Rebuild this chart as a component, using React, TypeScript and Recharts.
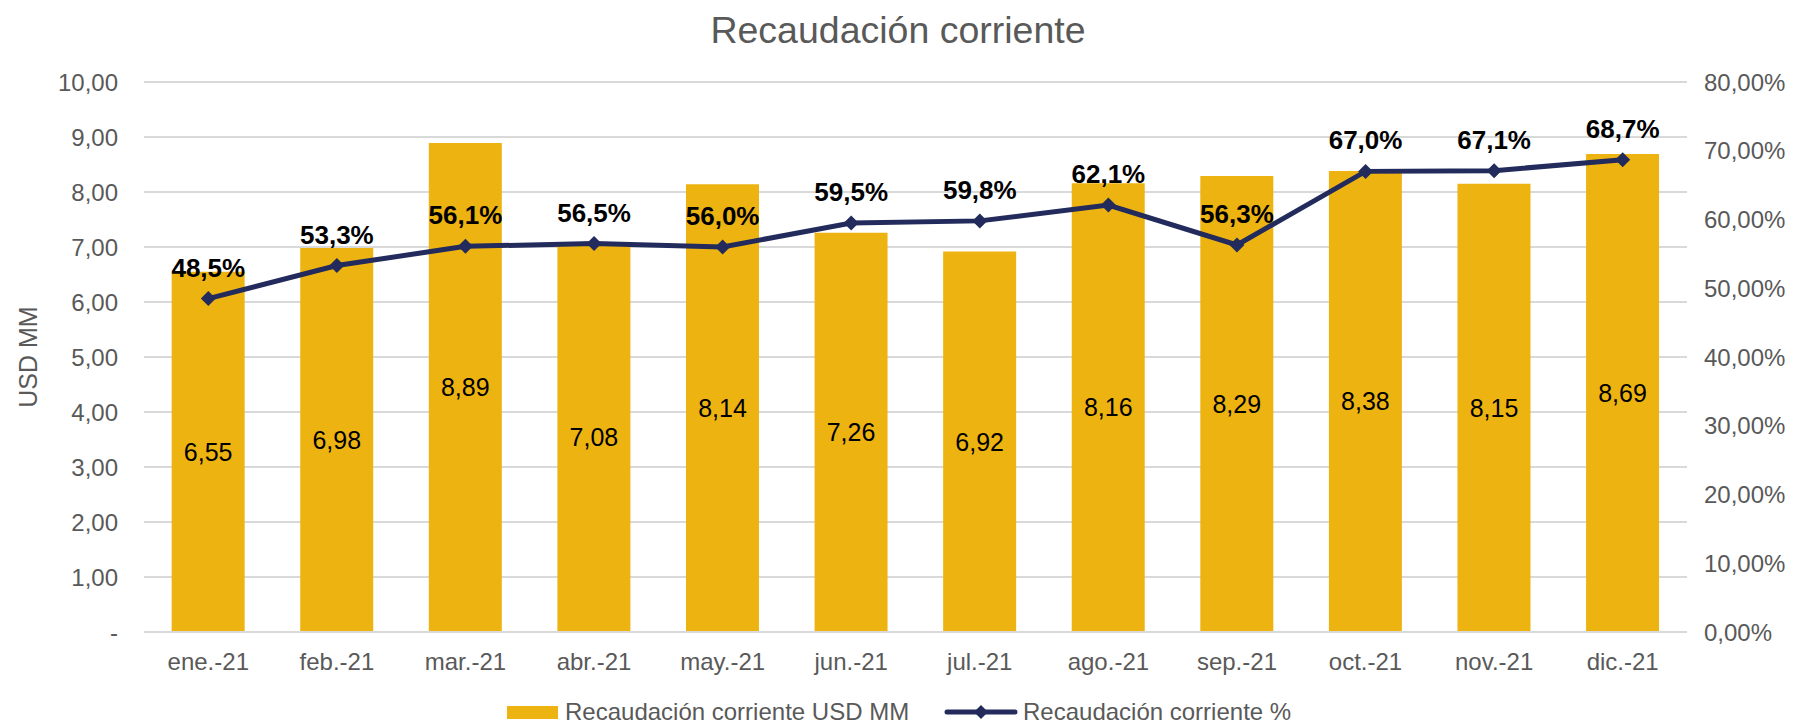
import React from "react";
import {
  Bar,
  CartesianGrid,
  ComposedChart,
  LabelList,
  Line,
  XAxis,
  YAxis,
} from "recharts";

const months = [
  "ene.-21", "feb.-21", "mar.-21", "abr.-21", "may.-21", "jun.-21",
  "jul.-21", "ago.-21", "sep.-21", "oct.-21", "nov.-21", "dic.-21",
];
const usdMM = [6.55, 6.98, 8.89, 7.08, 8.14, 7.26, 6.92, 8.16, 8.29, 8.38, 8.15, 8.69];
const pct = [48.5, 53.3, 56.1, 56.5, 56.0, 59.5, 59.8, 62.1, 56.3, 67.0, 67.1, 68.7];
const leftTicks = [0, 1, 2, 3, 4, 5, 6, 7, 8, 9, 10];
const rightTicks = [0, 10, 20, 30, 40, 50, 60, 70, 80];

const BAR_COLOR = "#EDB311";
const LINE_COLOR = "#222B5C";
const AXIS_TEXT = "#595959";
const FONT = "'Liberation Sans', Arial, sans-serif";

const data = months.map((m, i) => ({ mes: m, usd: usdMM[i], pct: pct[i] }));

const comma = (v: number, d: number) => v.toFixed(d).replace(".", ",");

function Diamond(props: any) {
  const { cx, cy, index } = props;
  if (cx == null || cy == null) return null;
  const r = 7.5;
  return (
    <path
      key={`d-${index}`}
      d={`M${cx},${cy - r} L${cx + r},${cy} L${cx},${cy + r} L${cx - r},${cy} Z`}
      fill={LINE_COLOR}
    />
  );
}

function LegendBlock() {
  return (
    <div
      style={{
        position: "absolute",
        top: 698,
        left: 0,
        width: 1796,
        height: 28,
        fontFamily: FONT,
        fontSize: 24,
        color: AXIS_TEXT,
      }}
    >
      <div style={{ position: "absolute", left: 507, top: 8, width: 51, height: 13, background: BAR_COLOR }} />
      <span style={{ position: "absolute", left: 565, top: 0, lineHeight: "28px", whiteSpace: "nowrap" }}>
        Recaudación corriente USD MM
      </span>
      <svg style={{ position: "absolute", left: 944, top: 4 }} width={74} height={20}>
        <line x1={3} y1={10} x2={71} y2={10} stroke={LINE_COLOR} strokeWidth={5} strokeLinecap="round" />
        <path d="M37,3 L44,10 L37,17 L30,10 Z" fill={LINE_COLOR} />
      </svg>
      <span style={{ position: "absolute", left: 1023, top: 0, lineHeight: "28px", whiteSpace: "nowrap" }}>
        Recaudación corriente %
      </span>
    </div>
  );
}

export default function App() {
  return (
    <div style={{ position: "relative", width: 1796, height: 724, background: "#fff" }}>
      <style>{`body{margin:0}`}</style>
      <div
        style={{
          position: "absolute",
          top: 8,
          left: 0,
          width: 1796,
          textAlign: "center",
          fontFamily: FONT,
          fontSize: 37.5,
          color: AXIS_TEXT,
          lineHeight: "44px",
        }}
      >
        Recaudación corriente
      </div>
      <ComposedChart
        width={1796}
        height={724}
        data={data}
        margin={{ top: 82, right: 0, bottom: 0, left: 0 }}
        barCategoryGap="21.5%"
        style={{ fontFamily: FONT }}
      >
        <CartesianGrid vertical={false} stroke="#D9D9D9" strokeWidth={2} yAxisId="left" />
        <XAxis
          dataKey="mes"
          height={92}
          tickSize={0}
          tickMargin={21}
          axisLine={{ stroke: "#D9D9D9", strokeWidth: 2 }}
          tickLine={false}
          tick={{ fill: AXIS_TEXT, fontSize: 24 }}
        />
        <YAxis
          yAxisId="left"
          width={144}
          domain={[0, 10]}
          ticks={leftTicks}
          interval={0}
          axisLine={false}
          tickLine={false}
          tickSize={0}
          tickMargin={26}
          tick={{ fill: AXIS_TEXT, fontSize: 24 }}
          tickFormatter={(v: number) => (v === 0 ? "-" : comma(v, 2))}
          label={{
            content: (p: any) => {
              const vb = p.viewBox || {};
              const cy = (vb.y ?? 82) + (vb.height ?? 550) / 2;
              return (
                <text
                  x={28}
                  y={cy}
                  dy={9}
                  transform={`rotate(-90, 28, ${cy})`}
                  textAnchor="middle"
                  fill={AXIS_TEXT}
                  fontSize={25}
                  fontFamily={FONT}
                >
                  USD MM
                </text>
              );
            },
          }}
        />
        <YAxis
          yAxisId="right"
          orientation="right"
          width={109}
          domain={[0, 80]}
          ticks={rightTicks}
          interval={0}
          axisLine={false}
          tickLine={false}
          tickSize={0}
          tickMargin={17}
          tick={{ fill: AXIS_TEXT, fontSize: 24, textAnchor: "start" }}
          tickFormatter={(v: number) => `${comma(v, 2)}%`}
        />
        <Bar yAxisId="left" dataKey="usd" fill={BAR_COLOR} isAnimationActive={false}>
          <LabelList
            dataKey="usd"
            position="center"
            fill="#000"
            fontSize={25}
            formatter={(v: any) => comma(Number(v), 2)}
          />
        </Bar>
        <Line
          yAxisId="right"
          dataKey="pct"
          stroke={LINE_COLOR}
          strokeWidth={5}
          dot={<Diamond />}
          activeDot={false}
          isAnimationActive={false}
        >
          <LabelList
            dataKey="pct"
            position="top"
            offset={22}
            fill="#000"
            fontSize={26}
            fontWeight="bold"
            formatter={(v: any) => `${comma(Number(v), 1)}%`}
          />
        </Line>
      </ComposedChart>
      <LegendBlock />
    </div>
  );
}
